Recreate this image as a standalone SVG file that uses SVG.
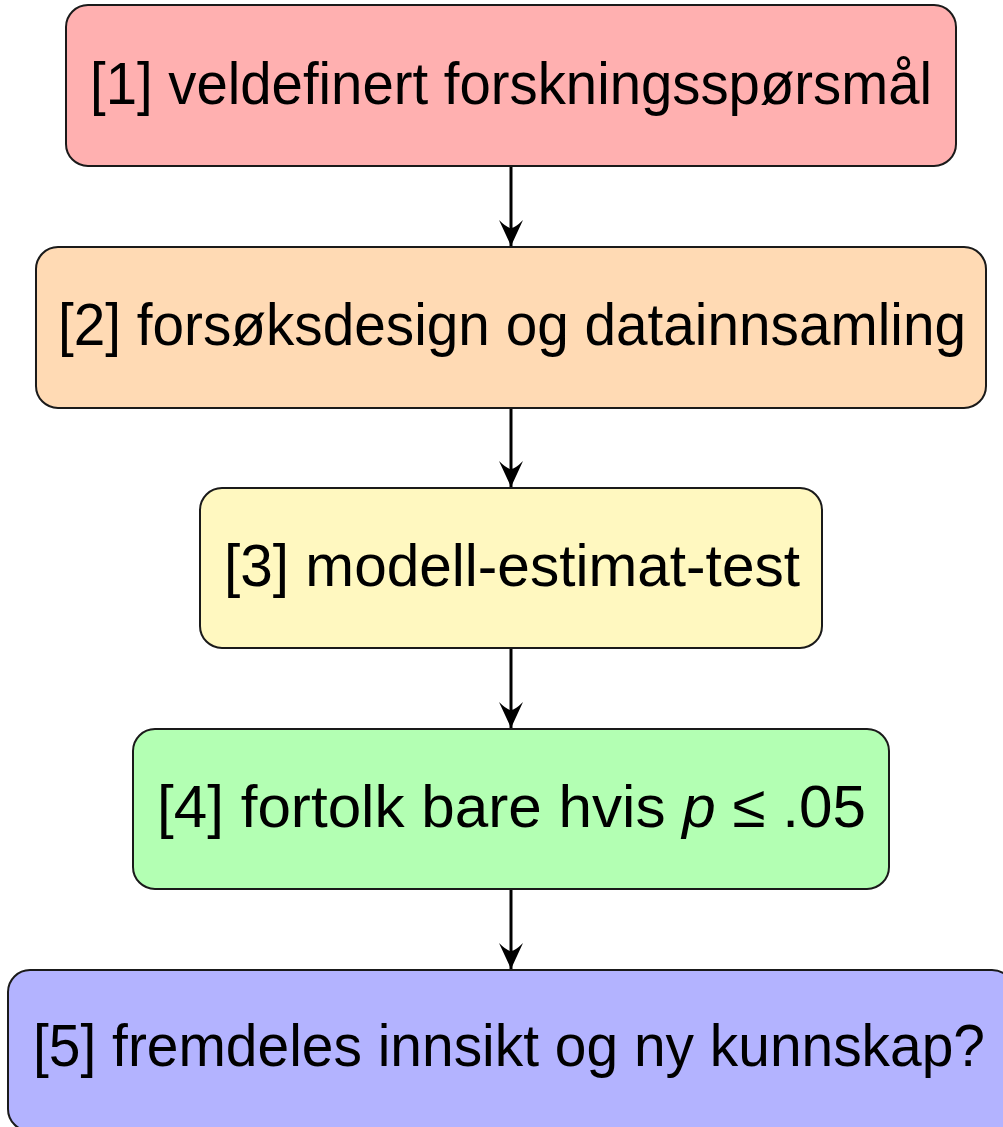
<svg xmlns="http://www.w3.org/2000/svg" width="1003" height="1127" viewBox="0 0 1003 1127">
<defs>
<marker id="ah" markerUnits="userSpaceOnUse" markerWidth="30" markerHeight="30" refX="26" refY="12" orient="auto">
<path d="M26,12 L0,0 Q8,8 8,12 Q8,16 0,24 Z" fill="#000"/>
</marker>
<style>
.box{stroke:#1a1a1a;stroke-width:2}
.lbl{font-family:"Liberation Sans","DejaVu Sans",sans-serif;font-size:60px;fill:#000}
.conn{stroke:#000;stroke-width:3;fill:none}
</style>
</defs>
<rect width="1003" height="1127" fill="#fff"/>
<g id="connectors">
<line class="conn" x1="511" y1="166" x2="511" y2="246" marker-end="url(#ah)"/>
<line class="conn" x1="511" y1="408" x2="511" y2="487" marker-end="url(#ah)"/>
<line class="conn" x1="511" y1="648" x2="511" y2="728" marker-end="url(#ah)"/>
<line class="conn" x1="511" y1="889" x2="511" y2="969" marker-end="url(#ah)"/>
</g>
<g id="n1">
<rect class="box" x="66" y="5" width="890" height="161" rx="22" fill="#FFB0B0"/>
<text class="lbl" x="90" y="104" textLength="842" lengthAdjust="spacingAndGlyphs">[1] veldefinert forskningsspørsmål</text>
</g>
<g id="n2">
<rect class="box" x="36" y="247" width="950" height="161" rx="22" fill="#FFDAB4"/>
<text class="lbl" x="58" y="345" textLength="908" lengthAdjust="spacingAndGlyphs">[2] forsøksdesign og datainnsamling</text>
</g>
<g id="n3">
<rect class="box" x="200" y="488" width="622" height="160" rx="22" fill="#FFF8C0"/>
<text class="lbl" x="224" y="586" textLength="576" lengthAdjust="spacingAndGlyphs">[3] modell-estimat-test</text>
</g>
<g id="n4">
<rect class="box" x="133" y="729" width="756" height="160" rx="22" fill="#B3FFB3"/>
<text class="lbl" x="157" y="827" textLength="709" lengthAdjust="spacingAndGlyphs">[4] fortolk bare hvis <tspan font-style="italic">p</tspan> ≤ .05</text>
</g>
<g id="n5">
<rect class="box" x="8" y="970" width="1006" height="161" rx="22" fill="#B3B3FF"/>
<text class="lbl" x="33" y="1066" textLength="952" lengthAdjust="spacingAndGlyphs">[5] fremdeles innsikt og ny kunnskap?</text>
</g>
</svg>
